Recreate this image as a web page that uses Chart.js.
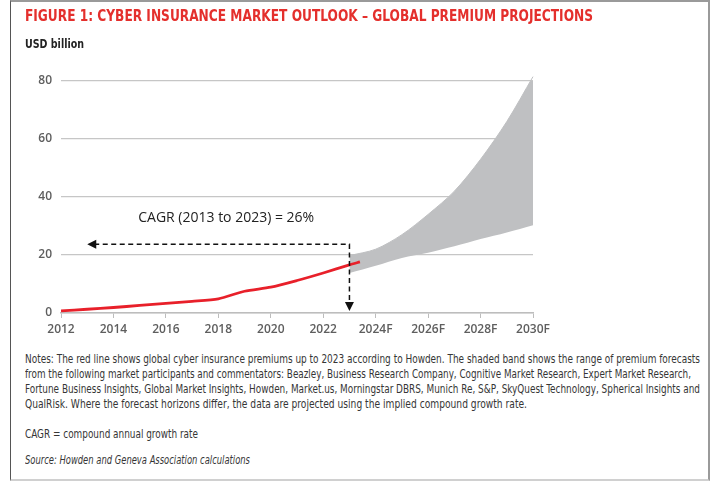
<!DOCTYPE html>
<html>
<head>
<meta charset="utf-8">
<script src="https://cdn.jsdelivr.net/npm/chart.js@4.4.1/dist/chart.umd.min.js"></script>
<style>
  html, body { margin: 0; padding: 0; background: #fff; }
  body { width: 711px; height: 481px; position: relative; overflow: hidden; }
  #frame {
    position: absolute; left: 10px; top: 0; width: 700px; height: 481px;
    box-sizing: border-box;
    border-left: 1px solid #555; border-top: 2px solid #9a9a9a;
    border-right: 2px solid #9a9a9a; border-bottom: 2px solid #d0d0d0;
  }
  #chart { position: absolute; left: 0; top: 0; }
  .txt { position: absolute; white-space: nowrap; font-family: "Liberation Sans Narrow", "DejaVu Sans Condensed", "DejaVu Sans", sans-serif; }
  .fit { display: inline-block; transform-origin: 0 50%; }
  #title { left: 25px; top: 7px; font-size: 15px; font-weight: bold; color: #e42f2c; }
  #unit { left: 25px; top: 37px; font-size: 11.5px; font-weight: bold; color: #222; }
  #notes { left: 25px; top: 352px; font-size: 11.6px; line-height: 15px; color: #363636; }
  #notes div { height: 15px; }
</style>
</head>
<body>
<div id="frame"></div>
<canvas id="chart" width="711" height="345"></canvas>
<div id="title" class="txt"><span class="fit" data-w="568">FIGURE 1: CYBER INSURANCE MARKET OUTLOOK – GLOBAL PREMIUM PROJECTIONS</span></div>
<div id="unit" class="txt"><span class="fit" data-w="59">USD billion</span></div>
<div id="notes" class="txt">
  <div><span class="fit" data-w="675">Notes: The red line shows global cyber insurance premiums up to 2023 according to Howden. The shaded band shows the range of premium forecasts</span></div>
  <div><span class="fit" data-w="666">from the following market participants and commentators: Beazley, Business Research Company, Cognitive Market Research, Expert Market Research,</span></div>
  <div><span class="fit" data-w="675">Fortune Business Insights, Global Market Insights, Howden, Market.us, Morningstar DBRS, Munich Re, S&amp;P, SkyQuest Technology, Spherical Insights and</span></div>
  <div><span class="fit" data-w="502">QualRisk. Where the forecast horizons differ, the data are projected using the implied compound growth rate.</span></div>
  <div style="margin-top:15px"><span class="fit" data-w="173">CAGR = compound annual growth rate</span></div>
  <div style="margin-top:11px; font-style:italic"><span class="fit" data-w="225">Source: Howden and Geneva Association calculations</span></div>
</div>
<script>
// Howden premiums (historic)
const histYears = [2012, 2013, 2014, 2015, 2016, 2017, 2018, 2019, 2020, 2021, 2022, 2023, 2023.4];
const histValues = [0.7, 1.3, 1.9, 2.6, 3.3, 4.0, 4.9, 7.5, 8.9, 11.2, 13.8, 16.6, 17.6];

// forecast band
const bandYears = [2023, 2024, 2025, 2026, 2027, 2028, 2029, 2030];
const bandLow = [13.8, 16.3, 19.0, 20.8, 23.0, 25.5, 27.8, 30.3];
const bandHigh = [19.8, 22.0, 27.0, 34.0, 42.0, 53.0, 66.0, 81.5];

const lastActual = 2023;
const yTicks = [0, 20, 40, 60, 80];

// CAGR annotation
const cagrLabel = "CAGR (2013 to 2023) = 26%";
const cagrFrom = 2013;
const cagrTo = 2023;
const cagrLevel = 23.7;

// squeeze the text lines to the widths they have in the figure
document.querySelectorAll(".fit").forEach((el) => {
  const w = el.getBoundingClientRect().width;
  el.style.transform = "scaleX(" + (parseFloat(el.dataset.w) / w) + ")";
});

const toPoints = (xs, ys) => xs.map((x, i) => ({ x: x, y: ys[i] }));

const tickFont = { family: "'Open Sans', sans-serif", size: 12, weight: "600" };
const tickColor = "#5e5e5e";

// dashed arrows + label
const cagrArrows = {
  id: "cagrArrows",
  afterDatasetsDraw(chart) {
    const { ctx, scales } = chart;
    const xs = scales.x, ys = scales.y;
    const xEnd = xs.getPixelForValue(cagrTo);
    const xTip = xs.getPixelForValue(cagrFrom);
    const yLine = ys.getPixelForValue(cagrLevel);
    const yTip = ys.getPixelForValue(0) - 2;

    ctx.save();
    ctx.strokeStyle = "#111";
    ctx.fillStyle = "#111";
    ctx.lineWidth = 1.5;
    ctx.setLineDash([5, 3.5]);
    ctx.beginPath();
    ctx.moveTo(xTip + 7, yLine);
    ctx.lineTo(xEnd, yLine);
    ctx.lineTo(xEnd, yTip - 7);
    ctx.stroke();
    ctx.setLineDash([]);

    // left arrowhead
    ctx.beginPath();
    ctx.moveTo(xTip, yLine);
    ctx.lineTo(xTip + 9, yLine - 4.5);
    ctx.lineTo(xTip + 9, yLine + 4.5);
    ctx.closePath();
    ctx.fill();

    // down arrowhead
    ctx.beginPath();
    ctx.moveTo(xEnd, yTip);
    ctx.lineTo(xEnd - 4.5, yTip - 9);
    ctx.lineTo(xEnd + 4.5, yTip - 9);
    ctx.closePath();
    ctx.fill();

    ctx.font = "14px 'Open Sans', sans-serif";
    ctx.fillStyle = "#222";
    ctx.textAlign = "center";
    ctx.textBaseline = "middle";
    ctx.fillText(cagrLabel, xs.getPixelForValue(2018.3), ys.getPixelForValue(32.7));
    ctx.restore();
  }
};

new Chart(document.getElementById("chart"), {
  type: "line",
  plugins: [cagrArrows],
  data: {
    datasets: [
      {
        label: "Premiums",
        data: toPoints(histYears, histValues),
        borderColor: "#e8202a",
        borderWidth: 2.8,
        pointRadius: 0,
        tension: 0.25,
        fill: false,
        order: 0
      },
      {
        label: "Low",
        data: toPoints(bandYears, bandLow),
        borderColor: "rgba(0,0,0,0)",
        borderWidth: 0,
        pointRadius: 0,
        tension: 0.3,
        fill: false,
        order: 2
      },
      {
        label: "High",
        data: toPoints(bandYears, bandHigh),
        borderColor: "#bfc0c2",
        borderWidth: 1,
        backgroundColor: "#bfc0c2",
        pointRadius: 0,
        tension: 0.3,
        fill: "-1",
        clip: false,
        order: 1
      }
    ]
  },
  options: {
    responsive: false,
    animation: false,
    layout: { padding: { left: 0, top: 81, right: 178, bottom: 0 } },
    plugins: { legend: { display: false }, tooltip: { enabled: false } },
    scales: {
      x: {
        type: "linear",
        min: 2012,
        max: 2030,
        afterFit: (s) => { s.height = 32; },
        ticks: {
          stepSize: 2,
          padding: 4,
          font: tickFont,
          color: tickColor,
          callback: (v) => (v > lastActual ? v + "F" : String(v))
        },
        grid: { drawOnChartArea: false, drawTicks: true, tickLength: 5, color: "#bdbdbd", lineWidth: 1 },
        border: { display: true, color: "#bdbdbd", width: 1.5 }
      },
      y: {
        min: 0,
        max: 80,
        afterFit: (s) => { s.width = 61; },
        afterBuildTicks: (s) => { s.ticks = yTicks.map((v) => ({ value: v })); },
        ticks: { padding: 9, font: tickFont, color: tickColor },
        grid: { drawTicks: false, color: "#c6c6c6", lineWidth: 1.3 },
        border: { display: false }
      }
    }
  }
});
</script>
</body>
</html>
